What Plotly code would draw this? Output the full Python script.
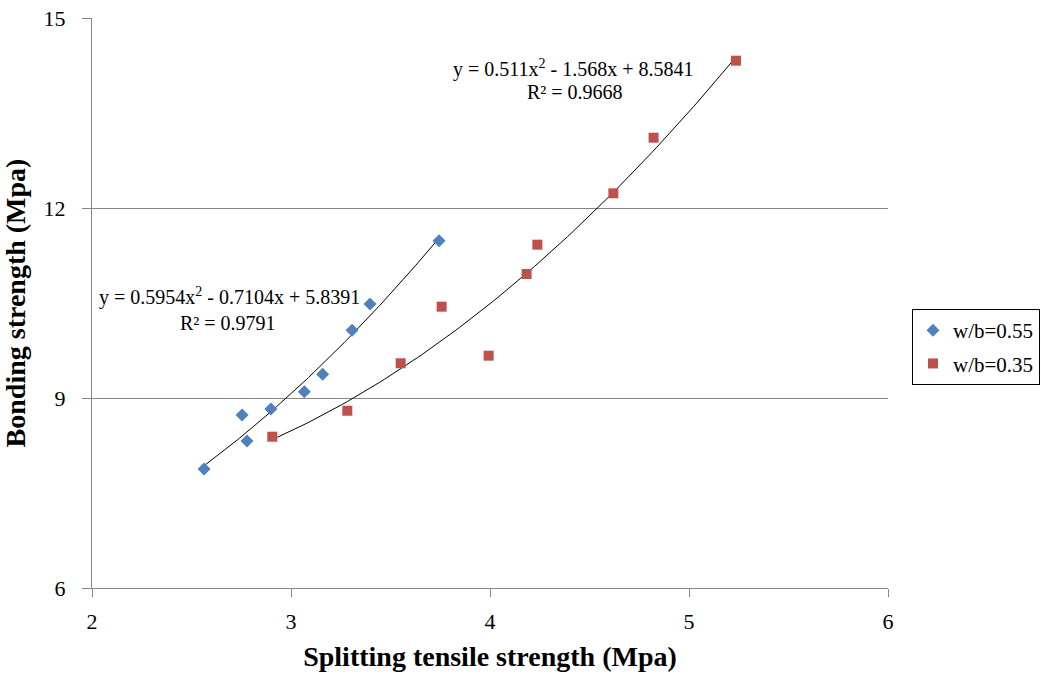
import numpy as np
import plotly.graph_objects as go

# Data
x_055 = [2.563, 2.754, 2.779, 2.899, 3.067, 3.159, 3.307, 3.397, 3.744]
y_055 = [7.879, 8.731, 8.321, 8.826, 9.099, 9.374, 10.069, 10.484, 11.484]

x_035 = [2.906, 3.283, 3.551, 3.757, 3.993, 4.184, 4.238, 4.620, 4.822, 5.236]
y_035 = [8.389, 8.799, 9.548, 10.442, 9.668, 10.958, 11.421, 12.232, 13.110, 14.326]

coef_055 = [0.5954, -0.7104, 5.8391]
coef_035 = [0.511, -1.568, 8.5841]

x_ticks = [2, 3, 4, 5, 6]
y_ticks = [6, 9, 12, 15]

BLUE = "#4F81BD"
RED = "#C0504D"
FONT = "Liberation Serif"

fig = go.Figure()

# trendlines
for xs, coef in ((x_055, coef_055), (x_035, coef_035)):
    xx = np.linspace(min(xs), max(xs), 100)
    yy = np.polyval(coef, xx)
    fig.add_trace(go.Scatter(x=xx, y=yy, mode="lines", line=dict(color="black", width=1),
                             showlegend=False, hoverinfo="skip"))

fig.add_trace(go.Scatter(x=x_055, y=y_055, mode="markers", name="w/b=0.55", legendgroup="a",
                         marker=dict(symbol="diamond", size=10, color=BLUE)))
fig.add_trace(go.Scatter(x=x_035, y=y_035, mode="markers", name="w/b=0.35", legendgroup="b",
                         marker=dict(symbol="square", size=10, color=RED)))

ann_font = dict(family=FONT, size=20, color="black")
annots = [
    ("y = 0.5954x<sup>2</sup> - 0.7104x + 5.8391", 229, 296),
    ("R² = 0.9791", 228, 323),
    ("y = 0.511x<sup>2</sup> - 1.568x + 8.5841", 573, 69),
    ("R² = 0.9668", 575, 92),
]
for txt, px, py in annots:
    fig.add_annotation(text=txt, x=(px - 92) / 796, y=(588 - py) / 570,
                       xref="paper", yref="paper", showarrow=False,
                       xanchor="center", yanchor="middle", font=ann_font)

fig.update_layout(
    width=1041, height=678,
    margin=dict(l=92, r=153, t=18, b=90),
    paper_bgcolor="white", plot_bgcolor="white",
    font=dict(family=FONT, color="black"),
    legend=dict(xref="container", yref="container",
                x=912 / 1041, y=1 - 347 / 678, xanchor="left", yanchor="middle",
                bordercolor="#000000", borderwidth=1,
                font=dict(family=FONT, size=21, color="black"),
                itemwidth=30, tracegroupgap=3),
    xaxis=dict(range=[2, 6], tickvals=x_ticks, showgrid=False, zeroline=False,
               showline=True, linecolor="#868686", linewidth=1,
               ticks="outside", ticklen=8, tickcolor="#868686",
               ticklabelstandoff=6, automargin=False,
               tickfont=dict(family=FONT, size=22),
               title=dict(text="<b>Splitting tensile strength (Mpa)</b>",
                          font=dict(family=FONT, size=28), standoff=12)),
    yaxis=dict(range=[6, 15], tickvals=y_ticks, showgrid=True, gridcolor="#868686",
               gridwidth=1, zeroline=False,
               showline=True, linecolor="#868686", linewidth=1,
               ticks="outside", ticklen=9, tickcolor="#868686",
               ticklabelstandoff=12, automargin=False,
               tickfont=dict(family=FONT, size=22),
               title=dict(text="<b>Bonding strength (Mpa)</b>",
                          font=dict(family=FONT, size=28), standoff=14)),
)

fig.write_html("out.html")
